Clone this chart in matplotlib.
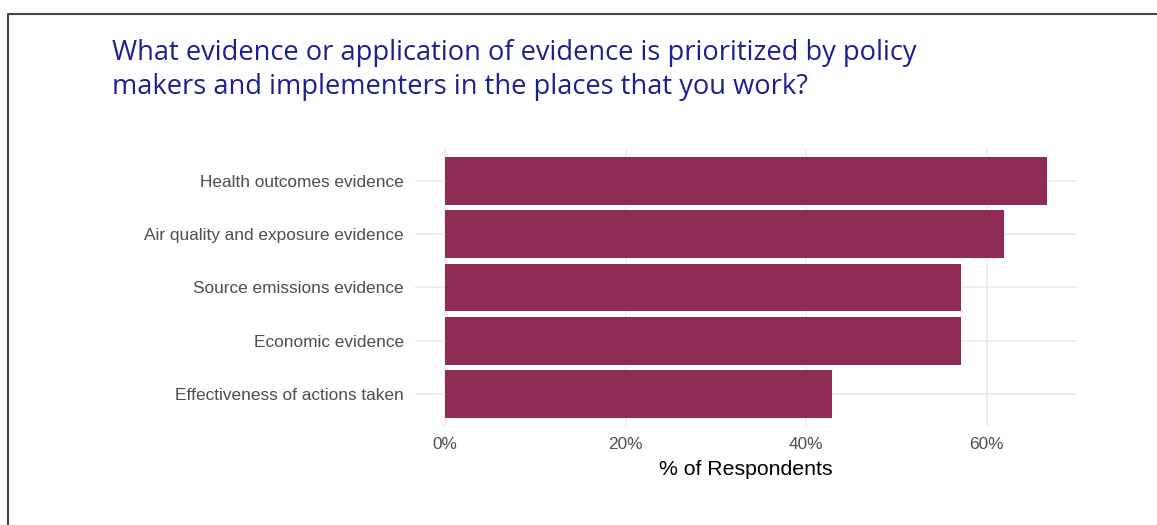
import matplotlib.pyplot as plt
from matplotlib.lines import Line2D
from matplotlib.ticker import FuncFormatter

# survey responses (share of respondents, %)
categories = [
    'Health outcomes evidence',
    'Air quality and exposure evidence',
    'Source emissions evidence',
    'Economic evidence',
    'Effectiveness of actions taken',
]
pct = [66.7, 61.9, 57.1, 57.1, 42.9]
xticks = [0, 20, 40, 60]

title = ('What evidence or application of evidence is prioritized by policy\n'
         'makers and implementers in the places that you work?')

bar_color = '#8E2C56'
grid_color = '#EBEBEB'

fig = plt.figure(figsize=(11.57, 5.25), dpi=100)
ax = fig.add_axes([0.3587, 0.1886, 0.5722, 0.5276])

ypos = list(range(len(categories)))[::-1]
ax.barh(ypos, pct, height=0.9, color=bar_color, zorder=2)

ax.set_xlim(-3.33, 70)
ax.set_ylim(-0.6, len(categories) - 0.4)
ax.set_xticks(xticks)
ax.xaxis.set_major_formatter(FuncFormatter(lambda v, _: f'{v:.0f}%'))
ax.set_yticks(ypos)
ax.set_yticklabels(categories)

ax.grid(True, color=grid_color, linewidth=1.2, zorder=0)
for s in ax.spines.values():
    s.set_visible(False)
ax.tick_params(length=0, labelsize=12.4, labelcolor='#4D4D4D', pad=8)
for lbl in ax.get_xticklabels() + ax.get_yticklabels():
    lbl.set_family('Liberation Sans')
ax.set_xlabel('% of Respondents', fontsize=15.3, family='Liberation Sans',
              color='black', labelpad=5.5)

fig.text(112 / 1157, 1 - 39 / 525, title, ha='left', va='top',
         fontsize=19.6, color='#1A2090', family='Open Sans', linespacing=1.3)

# frame lines along the top and left edge
fig.add_artist(Line2D([8 / 1157, 8 / 1157, 1], [0, 1 - 14 / 525, 1 - 14 / 525],
                      transform=fig.transFigure, color='#444444', linewidth=1.5))

fig.savefig('out.png', dpi=100)
